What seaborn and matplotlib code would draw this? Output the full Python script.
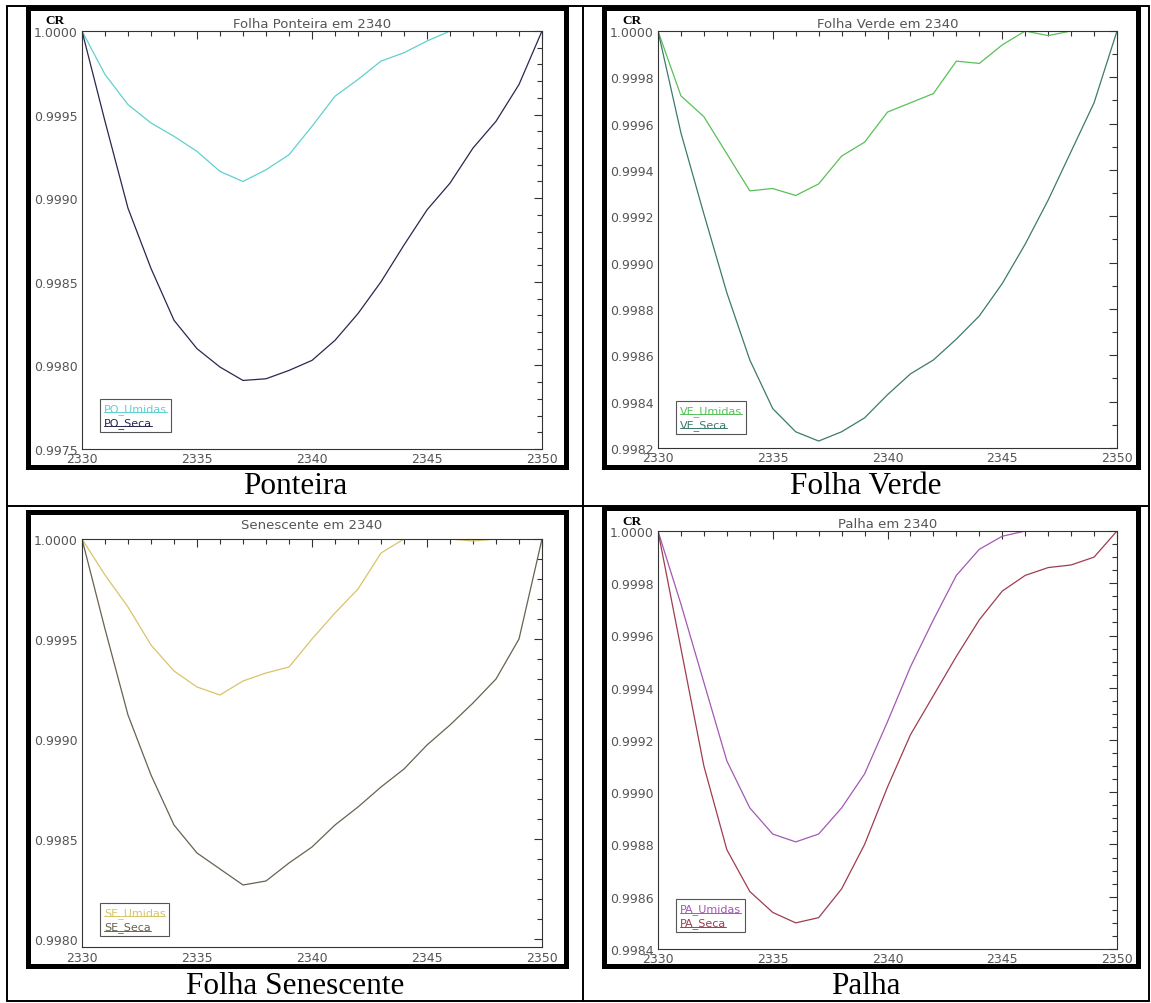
#! /usr/bin/env python3
'''
Continuum-removed reflectance around 2340 nm, four canopy components
'''
import matplotlib
matplotlib.use('Agg')
import matplotlib.pyplot as plt
import pandas as pd
import seaborn as sns
from matplotlib.lines import Line2D
from matplotlib.patches import Rectangle
from matplotlib.ticker import MultipleLocator, FormatStrFormatter
from matplotlib.transforms import IdentityTransform

# data (continuum removed)
WL = list(range(2330, 2351))

PO_UMIDAS = [1.0, 0.99974, 0.99956, 0.99945, 0.99937, 0.99928, 0.99916, 0.99910, 0.99917, 0.99926,
             0.99943, 0.99961, 0.99971, 0.99982, 0.99987, 0.99994, 1.0, 1.0, 1.0, 1.0, 1.0]
PO_SECA = [1.0, 0.99946, 0.99894, 0.99858, 0.99827, 0.99810, 0.99799, 0.99791, 0.99792, 0.99797,
           0.99803, 0.99815, 0.99831, 0.99850, 0.99872, 0.99893, 0.99909, 0.99930, 0.99946, 0.99968, 1.0]

VE_UMIDAS = [1.0, 0.99972, 0.99963, 0.99947, 0.99931, 0.99932, 0.99929, 0.99934, 0.99946, 0.99952,
             0.99965, 0.99969, 0.99973, 0.99987, 0.99986, 0.99994, 1.0, 0.99998, 1.0, 1.0, 1.0]
VE_SECA = [1.0, 0.99956, 0.99921, 0.99887, 0.99858, 0.99837, 0.99827, 0.99823, 0.99827, 0.99833,
           0.99843, 0.99852, 0.99858, 0.99867, 0.99877, 0.99891, 0.99908, 0.99927, 0.99948, 0.99969, 1.0]

SE_UMIDAS = [1.0, 0.99982, 0.99966, 0.99947, 0.99934, 0.99926, 0.99922, 0.99929, 0.99933, 0.99936,
             0.99950, 0.99963, 0.99975, 0.99993, 1.0, 1.0, 1.0, 0.99999, 1.0, 1.0, 1.0]
SE_SECA = [1.0, 0.99955, 0.99912, 0.99882, 0.99857, 0.99843, 0.99835, 0.99827, 0.99829, 0.99838,
           0.99846, 0.99857, 0.99866, 0.99876, 0.99885, 0.99897, 0.99907, 0.99918, 0.99930, 0.99950, 1.0]

PA_UMIDAS = [1.0, 0.99972, 0.99942, 0.99912, 0.99894, 0.99884, 0.99881, 0.99884, 0.99894, 0.99907,
             0.99927, 0.99948, 0.99966, 0.99983, 0.99993, 0.99998, 1.0, 1.0, 1.0, 1.0, 1.0]
PA_SECA = [1.0, 0.99955, 0.99910, 0.99878, 0.99862, 0.99854, 0.99850, 0.99852, 0.99863, 0.99880,
           0.99902, 0.99922, 0.99937, 0.99952, 0.99966, 0.99977, 0.99983, 0.99986, 0.99987, 0.99990, 1.0]

# layout, all in pixels of the 1151x1004 picture
W, H = 1151, 1004
PANELS = [
    dict(title='Folha Ponteira em 2340', caption='Ponteira', cr=True,
         names=['PO_Umidas', 'PO_Seca'], data=[PO_UMIDAS, PO_SECA], colors=['#5fd0d0', '#28284e'],
         ylim=(0.9975, 1.0), major=0.0005, minor=0.0001,
         axes=(82, 32, 542, 450), frame=(28, 9, 566, 467.5), cap=(295, 487),
         title_pad=3, xpad=2, leg=(0.039, 0.041)),
    dict(title='Folha Verde em 2340', caption='Folha Verde', cr=True,
         names=['VE_Umidas', 'VE_Seca'], data=[VE_UMIDAS, VE_SECA], colors=['#58c058', '#3c7a6e'],
         ylim=(0.9982, 1.0), major=0.0002, minor=0.0001,
         axes=(658, 32, 1117, 449), frame=(604, 9, 1137.5, 467.5), cap=(866, 487),
         title_pad=3, xpad=2, leg=(0.039, 0.034)),
    dict(title='Senescente em 2340', caption='Folha Senescente', cr=False,
         names=['SE_Umidas', 'SE_Seca'], data=[SE_UMIDAS, SE_SECA], colors=['#d8c468', '#6a6250'],
         ylim=(0.99796, 1.0), major=0.0005, minor=0.0001,
         axes=(82, 540, 542, 948), frame=(28, 512.5, 566, 966.5), cap=(295, 987),
         title_pad=8, xpad=3, leg=(0.039, 0.027)),
    dict(title='Palha em 2340', caption='Palha', cr=True,
         names=['PA_Umidas', 'PA_Seca'], data=[PA_UMIDAS, PA_SECA], colors=['#a458b4', '#a03c50'],
         ylim=(0.9984, 1.0), major=0.0002, minor=0.00005,
         axes=(658, 532, 1117, 950), frame=(604, 508.5, 1137.5, 966.5), cap=(866, 987),
         title_pad=3, xpad=2, leg=(0.039, 0.040)),
]
CR_POS = [(55, 21), (632, 21), None, (632, 522)]


def fx(x):
    return x / W


def fy(y):
    return 1 - y / H


sns.set_theme(style='white')
plt.rcParams['font.family'] = ['DejaVu Sans']
plt.rcParams['axes.linewidth'] = 0.8
plt.rcParams['axes.edgecolor'] = '#333333'

fig = plt.figure(figsize=(W / 100, H / 100), dpi=100)
fig.patch.set_facecolor('white')

legends = []
for p, crpos in zip(PANELS, CR_POS):
    x0, y0, x1, y1 = p['axes']
    ax = fig.add_axes([fx(x0), fy(y1), (x1 - x0) / W, (y1 - y0) / H])
    n = len(WL)
    df = pd.DataFrame({
        'wl': WL * 2,
        'cr': p['data'][0] + p['data'][1],
        'serie': [p['names'][0]] * n + [p['names'][1]] * n,
    })
    sns.lineplot(data=df, x='wl', y='cr', hue='serie', hue_order=p['names'],
                 palette=dict(zip(p['names'], p['colors'])), legend=False,
                 linewidth=0.9, ax=ax)
    ax.set_xlim(2330, 2350)
    ax.set_ylim(*p['ylim'])
    ax.set_xlabel('')
    ax.set_ylabel('')
    ax.xaxis.set_major_locator(MultipleLocator(5))
    ax.xaxis.set_minor_locator(MultipleLocator(1))
    ax.yaxis.set_major_locator(MultipleLocator(p['major']))
    ax.yaxis.set_minor_locator(MultipleLocator(p['minor']))
    ax.yaxis.set_major_formatter(FormatStrFormatter('%.4f'))
    ax.tick_params(which='both', direction='in', top=True, right=True,
                   color='#333333', labelcolor='#555555', labelsize=9, width=0.8)
    ax.tick_params(which='major', length=6)
    ax.tick_params(which='minor', length=3.5)
    ax.tick_params(axis='x', pad=p['xpad'])
    ax.tick_params(axis='y', pad=3)
    ax.set_title(p['title'], fontsize=9.5, color='#555555', pad=p['title_pad'])

    leg = ax.legend(handles=[Line2D([], [], linestyle='none')] * 2, labels=p['names'],
                    loc='lower left', bbox_to_anchor=p['leg'], borderaxespad=0,
                    handlelength=0, handletextpad=0, fontsize=8, frameon=True,
                    fancybox=False, edgecolor='#555555', framealpha=1,
                    borderpad=0.35, labelspacing=0.3)
    leg.get_frame().set_linewidth(0.8)
    for t, c in zip(leg.get_texts(), p['colors']):
        t.set_color(c)
    legends.append((leg, p['colors']))

    # thick black frame round each graph
    fx0, fy0, fx1, fy1 = p['frame']
    fig.add_artist(Rectangle((fx(fx0), fy(fy1)), (fx1 - fx0) / W, (fy1 - fy0) / H,
                             transform=fig.transFigure, fill=False, lw=3.6, ec='black'))
    # caption in the table cell
    fig.text(fx(p['cap'][0]), fy(p['cap'][1]), p['caption'], ha='center', va='center',
             family='Liberation Serif', fontsize=22.5, color='black')
    if crpos:
        fig.text(fx(crpos[0]), fy(crpos[1]), 'CR', ha='center', va='center',
                 family='Liberation Serif', weight='bold', fontsize=9.5, color='black')

# table grid
for xs, ys in [((7, 7), (7, 1002)), ((583, 583), (7, 1002)), ((1149, 1149), (7, 1002)),
               ((7, 1149), (7, 7)), ((7, 1149), (507, 507)), ((7, 1149), (1002, 1002))]:
    fig.add_artist(Line2D([fx(x) for x in xs], [fy(y) for y in ys],
                          transform=fig.transFigure, color='black', lw=1.4))

# underline legend entries
fig.canvas.draw()
r = fig.canvas.get_renderer()
for leg, colors in legends:
    for t, c in zip(leg.get_texts(), colors):
        bb = t.get_window_extent(r)
        fig.add_artist(Line2D([bb.x0, bb.x1], [bb.y0 + 1.5, bb.y0 + 1.5],
                              transform=IdentityTransform(), color=c, lw=0.7))

fig.savefig('out.png', dpi=100, facecolor='white')
